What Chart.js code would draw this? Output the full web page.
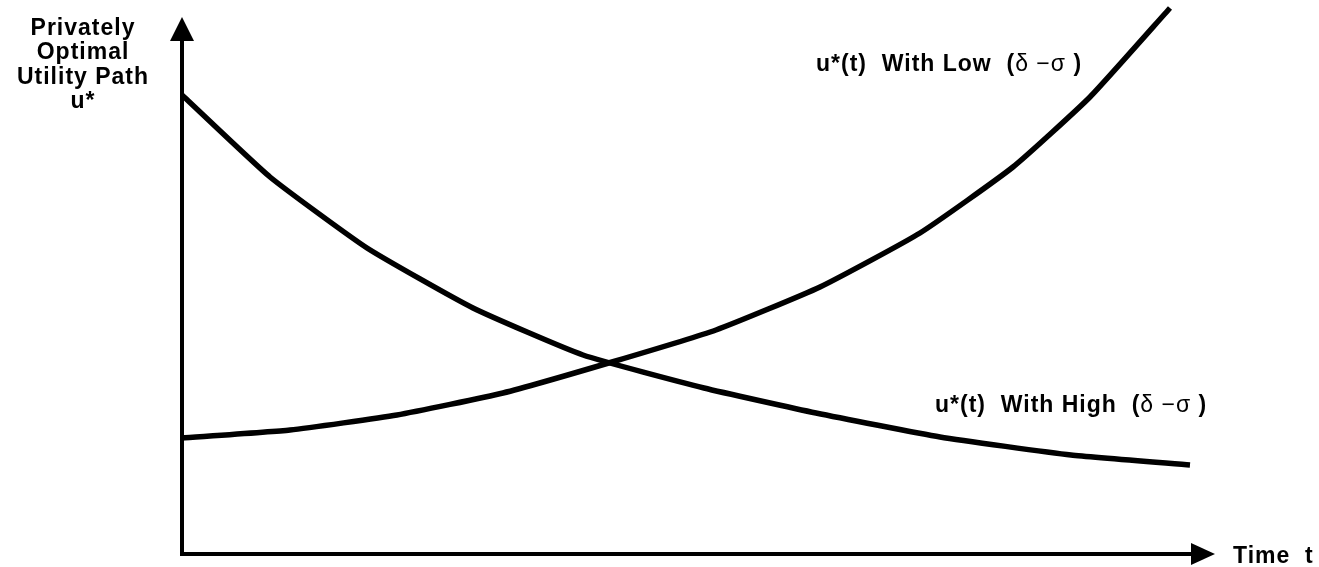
<!DOCTYPE html>
<html>
<head>
<meta charset="utf-8">
<script src="https://cdn.jsdelivr.net/npm/chart.js@4"></script>
<style>
  html, body { margin: 0; padding: 0; background: #fff; }
  #wrap { width: 1319px; height: 567px; position: relative; }
</style>
</head>
<body>
<div id="wrap"><canvas id="c" width="1319" height="567"></canvas></div>
<script>
// Time values (x) and utility values (y)
const highTime = [0, 8.8, 18.5, 29.1, 40.1, 52.2, 63.4, 75.8, 88.9, 100.8];
const highUtility = [91.8, 75.4, 61.2, 49.2, 39.8, 33.2, 28.2, 23.4, 19.8, 17.8];
const lowTime = [0, 10.8, 21.5, 32.1, 43.0, 53.4, 63.8, 73.8, 83.1, 90.8, 98.8];
const lowUtility = [23.2, 24.8, 27.8, 32.2, 38.4, 44.8, 53.4, 64.2, 77.4, 91.4, 109.2];

const yAxisLabel = ["Privately", "Optimal", "Utility Path", "u*"];
const xAxisLabel = "Time  t";
const lowLabel = ["u*(t)  With Low  (", "δ −σ", " )"];
const highLabel = ["u*(t)  With High  (", "δ −σ", " )"];

const toPoints = (xs, ys) => xs.map((x, i) => ({ x: x, y: ys[i] }));

const BOLD = "bold 23px 'Liberation Sans', Arial, sans-serif";
const REG = "23px 'Liberation Sans', Arial, sans-serif";

function drawSegments(ctx, parts, x, y) {
  const fonts = [BOLD, REG, BOLD];
  let cx = x;
  parts.forEach((p, i) => {
    ctx.font = fonts[i];
    ctx.fillText(p, cx, y);
    cx += ctx.measureText(p).width;
  });
}

const decor = {
  id: 'decor',
  afterDraw(chart) {
    const ctx = chart.ctx;
    const xs = chart.scales.x, ys = chart.scales.y;
    const area = chart.chartArea;
    const x0 = xs.getPixelForValue(0);
    const y0 = ys.getPixelForValue(0);
    ctx.save();
    ctx.fillStyle = '#000';
    ctx.strokeStyle = '#000';
    ctx.lineWidth = 4;
    ctx.lineCap = 'butt';
    // y axis
    ctx.beginPath();
    ctx.moveTo(x0, y0 + 2);
    ctx.lineTo(x0, area.top + 36);
    ctx.stroke();
    ctx.beginPath();
    ctx.moveTo(x0 - 12, area.top + 37);
    ctx.lineTo(x0 + 12, area.top + 37);
    ctx.lineTo(x0, area.top + 13);
    ctx.closePath();
    ctx.fill();
    // x axis
    ctx.beginPath();
    ctx.moveTo(x0 - 2, y0);
    ctx.lineTo(area.right - 23, y0);
    ctx.stroke();
    ctx.beginPath();
    ctx.moveTo(area.right - 24, y0 - 11);
    ctx.lineTo(area.right - 24, y0 + 11);
    ctx.lineTo(area.right, y0);
    ctx.closePath();
    ctx.fill();

    // texts
    ctx.font = BOLD;
    try { ctx.letterSpacing = '1px'; } catch (e) {}
    ctx.textBaseline = 'alphabetic';
    ctx.textAlign = 'center';
    const base = [35, 59, 84, 108];
    yAxisLabel.forEach((t, i) => ctx.fillText(t, 83, base[i]));
    ctx.textAlign = 'left';
    ctx.fillText(xAxisLabel, 1233, 563);
    drawSegments(ctx, lowLabel, 816, 71);
    drawSegments(ctx, highLabel, 935, 412);
    ctx.restore();
  }
};

new Chart(document.getElementById('c'), {
  type: 'line',
  data: {
    datasets: [
      { label: 'High', data: toPoints(highTime, highUtility) },
      { label: 'Low', data: toPoints(lowTime, lowUtility) }
    ]
  },
  options: {
    responsive: false,
    animation: false,
    events: [],
    layout: { padding: { left: 182, right: 104, top: 4, bottom: 13 } },
    elements: {
      line: { borderColor: '#000', borderWidth: 5.5, tension: 0.15, fill: false, borderCapStyle: 'butt', borderJoinStyle: 'round' },
      point: { radius: 0 }
    },
    datasets: { line: { clip: false } },
    scales: {
      x: { type: 'linear', min: 0, max: 103.3, display: false },
      y: { type: 'linear', min: 0, max: 110, display: false }
    },
    plugins: { legend: { display: false }, tooltip: { enabled: false }, title: { display: false } }
  },
  plugins: [decor]
});
</script>
</body>
</html>
